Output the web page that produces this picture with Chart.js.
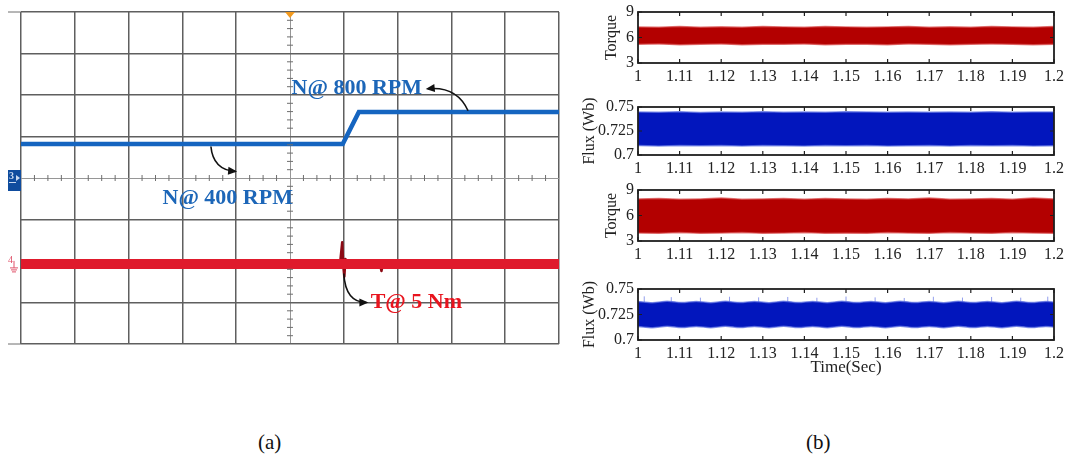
<!DOCTYPE html>
<html>
<head>
<meta charset="utf-8">
<script src="https://cdn.jsdelivr.net/npm/chart.js@4.4.0/dist/chart.umd.min.js"></script>
<style>
body{margin:0;background:#fff;width:1070px;height:462px;position:relative;overflow:hidden;font-family:'Liberation Serif',serif}
canvas{position:absolute}
.cap{position:absolute;top:430px;font-size:21px;color:#111}
</style>
</head>
<body>
<canvas id="scope" width="570" height="350" style="left:0;top:0"></canvas>
<canvas id="tq1"></canvas>
<canvas id="fx1"></canvas>
<canvas id="tq2"></canvas>
<canvas id="fx2"></canvas>
<div class="cap" style="left:258px">(a)</div>
<div class="cap" style="left:806px">(b)</div>
<script>
// ---- (a) scope capture, x in divisions (0..10), y in divisions from centre (-4..4)
const speedDiv   = [0, 5.98, 6.28, 10];
const speedLevel = [0.82, 0.82, 1.59, 1.59];
const torqueDiv   = [0, 10];
const torqueLevel = [-2.07, -2.07];
// load-step transient on the torque trace
const kickDiv   = [5.93, 5.97, 5.99, 6.01, 6.03, 6.06, 6.64, 6.68, 6.7, 6.72, 6.76];
const kickLevel = [-2.07, -1.55, -2.12, -2.38, -1.95, -2.07, null, -2.12, -2.24, -2.12, null];

// ---- (b) simulated torque / flux envelopes
const xTickLabels = ['1','1.11','1.12','1.13','1.14','1.15','1.16','1.17','1.18','1.19','1.2'];
const torqueTicks = ['3','6','9'];
const fluxTicks = ['0.7','0.725','0.75'];

const tBand = [1, 1.01, 1.02, 1.03, 1.04, 1.05, 1.06, 1.07, 1.08, 1.09, 1.1,
               1.11, 1.12, 1.13, 1.14, 1.15, 1.16, 1.17, 1.18, 1.19, 1.2];
const torque1Hi = [7.25, 7.2, 7.3, 7.2, 7.25, 7.2, 7.3, 7.25, 7.2, 7.3, 7.25, 7.2, 7.25, 7.3, 7.2, 7.25, 7.2, 7.3, 7.25, 7.2, 7.3];
const torque1Lo = [5.2, 5.25, 5.15, 5.2, 5.25, 5.15, 5.2, 5.2, 5.25, 5.15, 5.2, 5.2, 5.15, 5.25, 5.2, 5.15, 5.2, 5.25, 5.2, 5.15, 5.2];
const flux1Hi = [0.7448, 0.7446, 0.745, 0.7444, 0.7448, 0.7446, 0.745, 0.7445, 0.7448, 0.7446, 0.745, 0.7447, 0.7445, 0.7449, 0.7446, 0.7448, 0.7445, 0.745, 0.7446, 0.7448, 0.7447];
const flux1Lo = [0.7098, 0.7095, 0.7099, 0.7096, 0.7098, 0.7094, 0.7099, 0.7097, 0.7095, 0.7098, 0.7096, 0.7099, 0.7095, 0.7097, 0.7098, 0.7094, 0.7098, 0.7096, 0.7099, 0.7095, 0.7097];
const torque2Hi = [7.95, 8.0, 7.9, 7.95, 8.05, 7.9, 7.95, 8.0, 7.9, 8.0, 7.95, 7.9, 8.0, 7.95, 8.05, 7.9, 7.95, 8.0, 7.9, 8.05, 7.95];
const torque2Lo = [3.95, 3.9, 4.0, 3.9, 3.95, 4.0, 3.9, 3.95, 4.0, 3.9, 3.95, 3.9, 4.0, 3.95, 3.9, 4.0, 3.95, 3.9, 4.0, 3.95, 3.9];

const tWave = [1, 1.007, 1.014, 1.021, 1.028, 1.035, 1.042, 1.049, 1.056, 1.063, 1.07, 1.077, 1.084, 1.091, 1.098,
               1.105, 1.112, 1.119, 1.126, 1.133, 1.14, 1.147, 1.154, 1.161, 1.168, 1.175, 1.182, 1.189, 1.196, 1.2];
const flux2Hi = [0.7378, 0.7366, 0.7379, 0.7367, 0.7378, 0.7366, 0.738, 0.7367, 0.7378, 0.7366, 0.7379, 0.7367, 0.7378, 0.7366, 0.7379,
                 0.7367, 0.7378, 0.7366, 0.7379, 0.7367, 0.7378, 0.7366, 0.738, 0.7367, 0.7378, 0.7366, 0.7379, 0.7367, 0.7378, 0.7372];
const flux2Lo = [0.7133, 0.7121, 0.7134, 0.7122, 0.7133, 0.7121, 0.7134, 0.7122, 0.7133, 0.7121, 0.7134, 0.7122, 0.7133, 0.7121, 0.7134,
                 0.7122, 0.7133, 0.7121, 0.7134, 0.7122, 0.7133, 0.7121, 0.7134, 0.7122, 0.7133, 0.7121, 0.7134, 0.7122, 0.7133, 0.7127];
const spikeT   = [1.003, 1.016, 1.03, 1.044, 1.058, 1.072, 1.086, 1.1, 1.114, 1.128, 1.142, 1.156, 1.17, 1.184, 1.197];
const spikeTop = [0.7428, 0.742, 0.7415, 0.7424, 0.7418, 0.7422, 0.7414, 0.7426, 0.7418, 0.7412, 0.7424, 0.7416, 0.7422, 0.7415, 0.7425];

const SERIF = "'Liberation Serif', 'Times New Roman', serif";

function pts(xs, ys) { return xs.map((x, i) => ({x: x, y: ys[i]})); }

// ---------------- scope ----------------
const scopeDeco = {
  id: 'scopeDeco',
  afterDatasetsDraw(chart) {
    const {ctx, scales: {x, y}, chartArea: a} = chart;
    const X = v => x.getPixelForValue(v), Y = v => y.getPixelForValue(v);
    ctx.save();
    // minor ticks on the centre cross
    ctx.strokeStyle = 'rgb(110,110,110)';
    ctx.lineWidth = 1;
    ctx.beginPath();
    for (let k = 1; k < 40; k++) {
      if (k % 4 === 0) continue;
      const px = X(k / 4);
      ctx.moveTo(px, Y(0) - 3); ctx.lineTo(px, Y(0) + 3);
    }
    for (let k = -19; k < 20; k++) {
      if (k % 5 === 0) continue;
      const py = Y(k / 5);
      ctx.moveTo(X(5) - 3, py); ctx.lineTo(X(5) + 3, py);
    }
    // border stubs to the left
    ctx.moveTo(8, a.top); ctx.lineTo(a.left, a.top);
    ctx.moveTo(8, a.bottom); ctx.lineTo(a.left, a.bottom);
    ctx.stroke();

    // trigger marker
    ctx.fillStyle = '#f39a1e';
    ctx.beginPath();
    ctx.moveTo(X(5) - 5, a.top); ctx.lineTo(X(5) + 5, a.top); ctx.lineTo(X(5), a.top + 6);
    ctx.closePath(); ctx.fill();

    // channel 3 marker
    ctx.fillStyle = '#0f4c9e';
    ctx.fillRect(8, Y(0) - 8, 13, 21);
    ctx.fillStyle = '#c8d8f0';
    ctx.font = 'bold 10px ' + SERIF;
    ctx.textBaseline = 'middle';
    ctx.fillText('3', 9, Y(0) - 2);
    ctx.beginPath();
    ctx.moveTo(16, Y(0) - 3); ctx.lineTo(20, Y(0)); ctx.lineTo(16, Y(0) + 3); ctx.closePath(); ctx.fill();
    ctx.fillRect(9, Y(0) + 4, 7, 1);

    // channel 4 marker
    ctx.fillStyle = '#e0526a';
    ctx.strokeStyle = '#e0526a';
    ctx.font = '10px ' + SERIF;
    ctx.fillText('4', 8, Y(-2.07) - 4);
    ctx.beginPath();
    ctx.moveTo(14, Y(-2.07) - 3); ctx.lineTo(14, Y(-2.07) + 4);
    ctx.moveTo(10, Y(-2.07) + 4); ctx.lineTo(18, Y(-2.07) + 4);
    ctx.moveTo(11, Y(-2.07) + 6); ctx.lineTo(17, Y(-2.07) + 6);
    ctx.moveTo(12, Y(-2.07) + 8); ctx.lineTo(16, Y(-2.07) + 8);
    ctx.stroke();

    // labels
    ctx.font = 'bold 22px ' + SERIF;
    ctx.textBaseline = 'middle';
    ctx.fillStyle = '#1c66b8';
    ctx.fillText('N@ 800 RPM', X(5.03), Y(2.15));
    ctx.fillText('N@ 400 RPM', X(2.63), Y(-0.48));
    ctx.fillStyle = '#e8141e';
    ctx.fillText('T@ 5 Nm', X(6.5), Y(-2.99));

    // curved pointers
    const arrow = (p0, c, p1) => {
      const [x0, y0] = [X(p0[0]), Y(p0[1])], [cx, cy] = [X(c[0]), Y(c[1])], [x1, y1] = [X(p1[0]), Y(p1[1])];
      ctx.strokeStyle = '#111'; ctx.fillStyle = '#111'; ctx.lineWidth = 1.6;
      ctx.beginPath(); ctx.moveTo(x0, y0); ctx.quadraticCurveTo(cx, cy, x1, y1); ctx.stroke();
      const ang = Math.atan2(y1 - cy, x1 - cx);
      ctx.beginPath();
      ctx.moveTo(x1 + 2 * Math.cos(ang), y1 + 2 * Math.sin(ang));
      ctx.lineTo(x1 - 7 * Math.cos(ang) + 4 * Math.sin(ang), y1 - 7 * Math.sin(ang) - 4 * Math.cos(ang));
      ctx.lineTo(x1 - 7 * Math.cos(ang) - 4 * Math.sin(ang), y1 - 7 * Math.sin(ang) + 4 * Math.cos(ang));
      ctx.closePath(); ctx.fill();
    };
    arrow([8.31, 1.62], [8.1, 2.22], [7.56, 2.15]);
    arrow([3.53, 0.76], [3.57, 0.2], [3.98, 0.16]);
    arrow([6.0, -2.3], [6.03, -3.0], [6.42, -3.0]);
    ctx.restore();
  }
};

const isCentre = c => c.tick && ((c.scale.axis === 'x' && c.tick.value === 5) || (c.scale.axis === 'y' && c.tick.value === 0));
const gridColor = c => isCentre(c) ? 'rgb(150,150,150)' : 'rgb(95,95,95)';
const gridWidth = c => isCentre(c) ? 1 : 1.5;

new Chart(document.getElementById('scope'), {
  type: 'line',
  data: {
    datasets: [
      {data: pts(speedDiv, speedLevel), borderColor: '#1565c0', borderWidth: 4.5, pointRadius: 0, tension: 0},
      {data: pts(torqueDiv, torqueLevel), borderColor: '#df1a2c', borderWidth: 10, pointRadius: 0, tension: 0},
      {data: pts(kickDiv, kickLevel), borderColor: '#8c0a14', borderWidth: 2.5, pointRadius: 0, tension: 0,
       spanGaps: false, borderJoinStyle: 'round', borderCapStyle: 'round'}
    ]
  },
  options: {
    responsive: false, animation: false, events: [],
    layout: {padding: {left: 21, right: 11, top: 12, bottom: 6}},
    plugins: {legend: {display: false}, tooltip: {enabled: false}},
    scales: {
      x: {type: 'linear', min: 0, max: 10, ticks: {display: false, stepSize: 1},
          grid: {drawTicks: false, color: gridColor, lineWidth: gridWidth}, border: {display: false},
          afterFit: s => { s.height = 0; }},
      y: {type: 'linear', min: -4, max: 4, ticks: {display: false, stepSize: 1},
          grid: {drawTicks: false, color: gridColor, lineWidth: gridWidth}, border: {display: false},
          afterFit: s => { s.width = 0; }}
    }
  },
  plugins: [scopeDeco]
});

// ---------------- (b) panels ----------------
const boxFrame = {
  id: 'boxFrame',
  afterDraw(chart) {
    const {ctx, chartArea: a, scales: {x, y}} = chart;
    ctx.save();
    ctx.strokeStyle = '#1e1e1e';
    ctx.lineWidth = 1.2;
    ctx.beginPath();
    x.ticks.forEach(t => {
      const px = x.getPixelForValue(t.value);
      ctx.moveTo(px, a.top); ctx.lineTo(px, a.top + 4);
      ctx.moveTo(px, a.bottom); ctx.lineTo(px, a.bottom - 4);
    });
    y.ticks.forEach(t => {
      const py = y.getPixelForValue(t.value);
      ctx.moveTo(a.left, py); ctx.lineTo(a.left + 4, py);
      ctx.moveTo(a.right, py); ctx.lineTo(a.right - 4, py);
    });
    ctx.stroke();
    ctx.lineWidth = 1.8;
    ctx.strokeRect(a.left, a.top, a.width, a.height);
    ctx.restore();
  }
};

function panel(id, pos, cfg) {
  const cv = document.getElementById(id);
  cv.width = 1070 - pos.left;
  cv.height = pos.height;
  cv.style.left = pos.left + 'px';
  cv.style.top = pos.top + 'px';
  const datasets = [
    {data: pts(cfg.t, cfg.lo), borderColor: cfg.edge, borderWidth: 1.5, pointRadius: 0, tension: cfg.tension || 0, fill: false},
    {data: pts(cfg.t, cfg.hi), borderColor: cfg.edge, borderWidth: 1.5, pointRadius: 0, tension: cfg.tension || 0,
     fill: '-1', backgroundColor: cfg.color}
  ].concat(cfg.extra || []);
  new Chart(cv, {
    type: 'line',
    data: {datasets: datasets},
    options: {
      responsive: false, animation: false, events: [],
      layout: {padding: {left: 0, right: 12, top: 9, bottom: 0}},
      plugins: {legend: {display: false}, tooltip: {enabled: false}},
      scales: {
        x: {type: 'linear', min: 1, max: 1.2,
            grid: {display: false, drawTicks: false}, border: {display: false},
            ticks: {stepSize: 0.02, autoSkip: false, maxRotation: 0, padding: 6, color: '#222',
                    font: {family: SERIF, size: 16, lineHeight: 1}, callback: (v, i) => xTickLabels[i]},
            title: {display: !!cfg.xTitle, text: cfg.xTitle || '', color: '#222', padding: 0,
                    font: {family: SERIF, size: 17}},
            afterFit: s => { s.height = cfg.xTitle ? 38 : 30; }},
        y: {type: 'linear', min: cfg.ymin, max: cfg.ymax,
            grid: {display: false, drawTicks: false}, border: {display: false},
            ticks: {stepSize: cfg.step, padding: 4, color: '#222',
                    font: {family: SERIF, size: 16, lineHeight: 1}, callback: (v, i) => cfg.yLabels[i]},
            title: {display: true, text: cfg.yTitle, color: '#222', padding: 0,
                    font: {family: SERIF, size: 16}},
            afterFit: s => { s.width = 638 - pos.left; }}
      }
    },
    plugins: [boxFrame]
  });
}

const RED = '#b30000', RED_EDGE = 'rgba(215,70,70,0.7)';
const BLUE = '#0216bd', BLUE_EDGE = 'rgba(90,110,225,0.7)';

panel('tq1', {left: 602, top: 0, height: 93},
  {t: tBand, hi: torque1Hi, lo: torque1Lo, color: RED, edge: RED_EDGE,
   ymin: 3, ymax: 9, step: 3, yLabels: torqueTicks, yTitle: 'Torque'});
panel('fx1', {left: 580, top: 95, height: 90},
  {t: tBand, hi: flux1Hi, lo: flux1Lo, color: BLUE, edge: BLUE_EDGE,
   ymin: 0.7, ymax: 0.75, step: 0.025, yLabels: fluxTicks, yTitle: 'Flux (Wb)'});
panel('tq2', {left: 602, top: 178, height: 93},
  {t: tBand, hi: torque2Hi, lo: torque2Lo, color: RED, edge: RED_EDGE,
   ymin: 3, ymax: 9, step: 3, yLabels: torqueTicks, yTitle: 'Torque'});

const spikePts = [];
spikeT.forEach((t, i) => { spikePts.push({x: t, y: 0.7372}, {x: t, y: spikeTop[i]}, {x: t, y: null}); });
panel('fx2', {left: 580, top: 277, height: 101},
  {t: tWave, hi: flux2Hi, lo: flux2Lo, color: BLUE, edge: BLUE_EDGE, tension: 0.3,
   ymin: 0.7, ymax: 0.75, step: 0.025, yLabels: fluxTicks, yTitle: 'Flux (Wb)', xTitle: 'Time(Sec)',
   extra: [{data: spikePts, borderColor: 'rgba(110,125,230,0.75)', borderWidth: 1, pointRadius: 0, spanGaps: false, fill: false}]});
</script>
</body>
</html>
